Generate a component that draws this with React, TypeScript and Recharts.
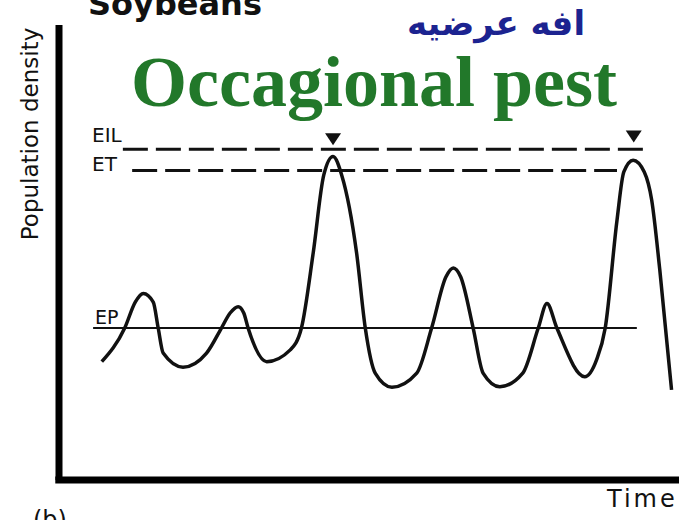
import {
  ComposedChart,
  Line,
  ReferenceDot,
  ReferenceLine,
  XAxis,
  YAxis,
} from "recharts";

// curve: time (0-100) vs population density (0-100)
const times = [
  6.9, 10.6, 12.3, 13.6, 15.2, 16.0, 16.8, 20.0, 23.8, 26.2, 27.6, 28.9, 29.8,
  30.5, 33.5, 37.3, 39.1, 41.0, 42.7, 44.2, 45.6, 48.0, 49.4, 51.0, 53.7, 57.7,
  60.1, 62.4, 63.6, 64.8, 66.8, 68.4, 71.1, 74.8, 77.3, 78.7, 80.3, 84.8, 86.7,
  88.1, 90.0, 91.1, 92.6, 94.4, 95.6, 96.9, 98.8,
];
const densities = [
  26.0, 33.4, 39.1, 41.0, 39.1, 33.4, 27.9, 24.8, 27.9, 33.4, 36.7, 38.1, 36.7,
  33.4, 26.0, 28.6, 33.4, 49.9, 67.0, 71.1, 67.0, 49.9, 33.4, 23.5, 20.4, 23.5,
  33.4, 44.6, 46.6, 44.6, 33.4, 23.5, 20.5, 23.5, 33.4, 38.8, 33.4, 22.7, 26.4,
  33.4, 57.1, 67.7, 70.3, 67.7, 61.5, 46.2, 19.8,
];

// threshold levels: label, level, start, end
const levelNames = ["EIL", "ET", "EP"];
const levelValues = [72.7, 68.0, 33.4];
const levelStarts = [10.3, 11.8, 5.5];
const levelEnds = [94.5, 90.0, 93.2];

// outbreak markers above the two big peaks
const markerTimes = [44.2, 92.7];
const markerLevels = [74.9, 75.5];

const data = times.map((time, i) => ({ time, density: densities[i] }));

const Triangle = (props: { cx?: number; cy?: number }) => {
  const { cx = 0, cy = 0 } = props;
  return (
    <path
      d={`M${cx - 8},${cy - 6} L${cx + 8},${cy - 6} L${cx},${cy + 6} Z`}
      fill="#111"
    />
  );
};

export default function App() {
  return (
    <div
      style={{
        position: "absolute",
        left: 0,
        top: 0,
        width: 679,
        height: 520,
        overflow: "hidden",
        background: "#fff",
      }}
    >
      <ComposedChart
        width={679}
        height={520}
        data={data}
        margin={{ top: 25, right: 0, bottom: 40, left: 59 }}
      >
        <XAxis dataKey="time" type="number" domain={[0, 100]} hide />
        <YAxis dataKey="density" type="number" domain={[0, 100]} hide />
        {/* heavy hand-drawn axes */}
        <ReferenceLine x={0} stroke="#000" strokeWidth={7} />
        <ReferenceLine
          segment={[
            { x: -0.6, y: 0 },
            { x: 100, y: 0 },
          ]}
          ifOverflow="visible"
          stroke="#000"
          strokeWidth={7}
        />
        {levelNames.map((name, i) => (
          <ReferenceLine
            key={name}
            segment={[
              { x: levelStarts[i], y: levelValues[i] },
              { x: levelEnds[i], y: levelValues[i] },
            ]}
            stroke="#111"
            strokeWidth={name === "EP" ? 2 : 3}
            strokeDasharray={name === "EP" ? undefined : "25 8"}
          />
        ))}
        <Line
          type="monotone"
          dataKey="density"
          stroke="#111"
          strokeWidth={3.5}
          dot={false}
          isAnimationActive={false}
        />
        {markerTimes.map((t, i) => (
          <ReferenceDot
            key={t}
            x={t}
            y={markerLevels[i]}
            r={8}
            shape={Triangle}
          />
        ))}
      </ComposedChart>

      <svg
        width={679}
        height={520}
        style={{ position: "absolute", left: 0, top: 0, pointerEvents: "none" }}
      >
        <text x={88} y={15} fontFamily="DejaVu Sans" fontWeight="bold" fontSize={32} fill="#111">
          Soybeans
        </text>
        <text x={496} y={35} textAnchor="middle" fontFamily="DejaVu Sans" fontWeight="bold" fontSize={34} fill="#1c2390">
          افه عرضيه
        </text>
        <text x={374} y={106} textAnchor="middle" fontFamily="Liberation Serif" fontWeight="bold" fontSize={72} fill="#22782a">
          Occagional pest
        </text>
        <text
          transform="translate(38,134) rotate(-90)"
          textAnchor="middle"
          fontFamily="DejaVu Sans"
          fontSize={23}
          fill="#111"
        >
          Population density
        </text>
        <text x={92} y={142} fontFamily="DejaVu Sans" fontSize={20} fill="#111">
          {levelNames[0]}
        </text>
        <text x={92} y={171} fontFamily="DejaVu Sans" fontSize={20} fill="#111">
          {levelNames[1]}
        </text>
        <text x={95} y={324} fontFamily="DejaVu Sans" fontSize={19} fill="#111">
          {levelNames[2]}
        </text>
        <text x={607} y={507} fontFamily="DejaVu Sans" fontSize={24} letterSpacing={3} fill="#111">
          Time
        </text>
        <text x={33} y={528} fontFamily="DejaVu Sans" fontSize={24} fill="#111">
          (b)
        </text>
      </svg>
    </div>
  );
}
